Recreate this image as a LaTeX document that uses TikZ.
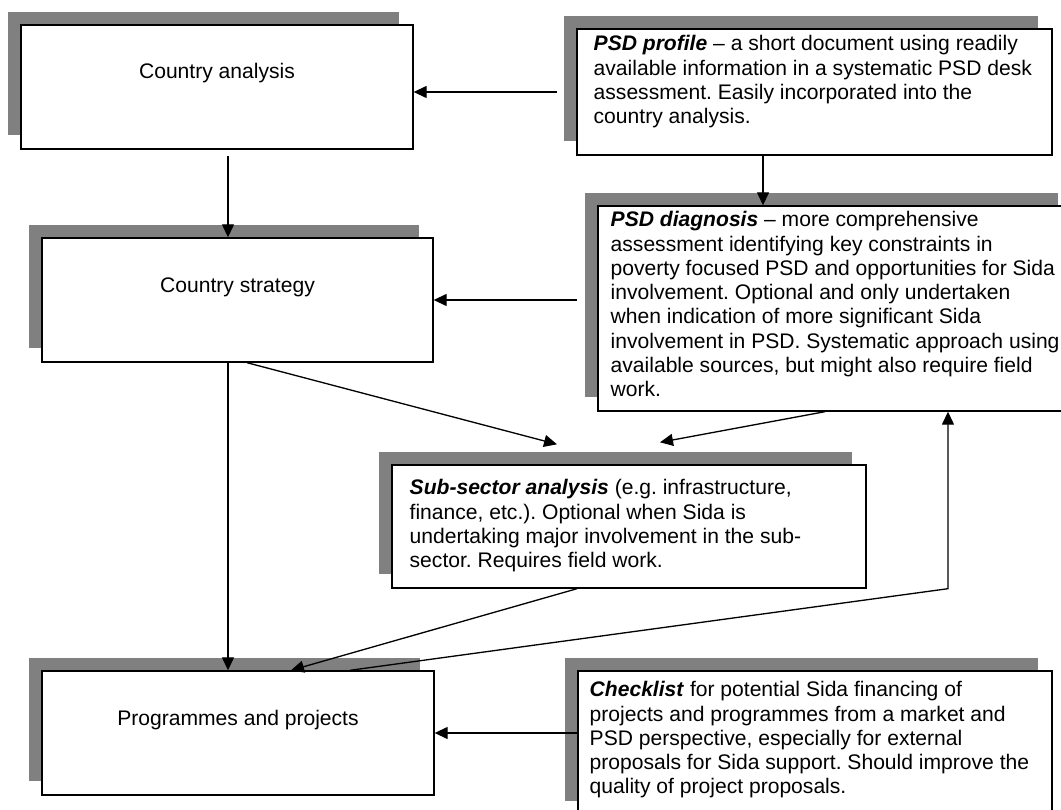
\documentclass[tikz,border=0pt]{standalone}
\usepackage{fontspec}
\setmainfont{Liberation Sans}
\usetikzlibrary{arrows.meta,shadows}
\definecolor{shadowgray}{HTML}{808080}
\tikzset{
  box/.style={draw, line width=0.8pt, fill=white, inner sep=0pt,
    drop shadow={shadow xshift=-0.27cm, shadow yshift=0.27cm, fill=shadowgray, draw=none, opacity=1}},
  lbl/.style={font=\fontsize{12}{13.8}\selectfont\frenchspacing, inner sep=0pt},
  desc/.style={lbl, align=left, anchor=north west, execute at begin node=\strut},
  arr/.style={line width=0.75pt, -{Triangle[length=0.26cm, width=0.24cm]}},
}
\begin{document}
\begin{tikzpicture}[x=0.02cm, y=-0.02cm]
  \useasboundingbox (0,0) rectangle (1061,810);
  \clip (0,0) rectangle (1061,810);

  % Left column
  \node[box, minimum width=7.84cm, minimum height=2.48cm] (ca) at (217,87) {};
  \node[lbl] (ca-txt) at ([yshift=0.28cm]ca.center) {Country analysis};
  \node[box, minimum width=7.82cm, minimum height=2.48cm] (cs) at (237.5,300) {};
  \node[lbl] (cs-txt) at ([yshift=0.26cm]cs.center) {Country strategy};
  \node[box, minimum width=7.84cm, minimum height=2.48cm] (pp) at (238,733) {};
  \node[lbl] (pp-txt) at ([yshift=0.26cm]pp.center) {Programmes and projects};

  % Right column
  \node[box, minimum width=9.5cm, minimum height=2.52cm] (p1) at (814.5,92) {};
  \node[desc] (p1-txt) at ([shift={(17,7)}]p1.north west)
    {\textbf{\textit{PSD profile}} – a short document using readily\\
     available information in a systematic PSD desk\\
     assessment. Easily incorporated into the\\
     country analysis.};
  \node[box, minimum width=9.48cm, minimum height=4.1cm] (p2) at (835,308.5) {};
  \node[desc] (p2-txt) at ([shift={(13,6)}]p2.north west)
    {\textbf{\textit{PSD diagnosis}} – more comprehensive\\
     assessment identifying key constraints in\\
     poverty focused PSD and opportunities for Sida\\
     involvement. Optional and only undertaken\\
     when indication of more significant Sida\\
     involvement in PSD. Systematic approach using\\
     available sources, but might also require field\\
     work.};
  \node[box, minimum width=9.48cm, minimum height=2.46cm] (ss) at (629,526.5) {};
  \node[desc] (ss-txt) at ([shift={(18,15)}]ss.north west)
    {\textbf{\textit{Sub-sector analysis}} (e.g. infrastructure,\\
     finance, etc.). Optional when Sida is\\
     undertaking major involvement in the sub-\\
     sector. Requires field work.};
  \node[box, minimum width=9.48cm, minimum height=2.88cm] (cl) at (815,743) {};
  \node[desc] (cl-txt) at ([shift={(12,11)}]cl.north west)
    {\textbf{\textit{Checklist}} for potential Sida financing of\\
     projects and programmes from a market and\\
     PSD perspective, especially for external\\
     proposals for Sida support. Should improve the\\
     quality of project proposals.};

  % Connectors
  \draw[arr, shorten <=0.38cm] (p1.west) -- (p1.west -| ca.east);
  \draw[arr] ([xshift=0.22cm, yshift=-0.12cm]ca.south) coordinate (t1) -- (t1 |- cs.north);
  \draw[arr] ([xshift=-1.03cm]p1.south) coordinate (t2) -- (t2 |- p2.north);
  \draw[arr, shorten <=0.4cm] (cs.east -| p2.west) -- (cs.east);
  \draw[arr] ([xshift=0.19cm]cs.south) -- ([shift={(-72,-20)}]ss.north);
  \draw[arr] ([xshift=-0.2cm]p2.south) -- ([shift={(31,-22)}]ss.north);
  \draw[arr] ([xshift=-0.19cm]cs.south) coordinate (t3) -- (t3 |- pp.north);
  \draw[arr] ([xshift=-1.04cm]ss.south) -- ([xshift=1.06cm]pp.north);
  \coordinate (fb) at ([xshift=2.26cm]p2.south);
  \draw[arr] ([xshift=2.24cm]pp.north) -- (fb |- ss.south) -- (fb);
  \draw[arr] (pp.east -| cl.west) -- (pp.east);
\end{tikzpicture}
\end{document}
